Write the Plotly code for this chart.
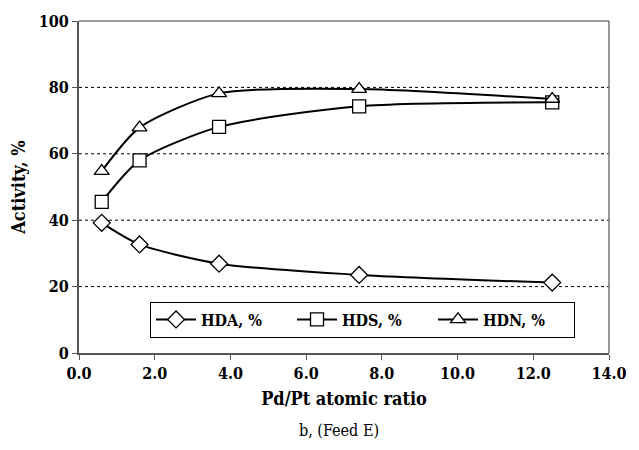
import plotly.graph_objects as go

ratio = [0.6, 1.6, 3.7, 7.4, 12.5]
hda = [39.2, 32.7, 26.9, 23.5, 21.2]
hds = [45.5, 58.0, 68.1, 74.3, 75.5]
hdn = [54.8, 67.9, 78.2, 79.5, 76.5]
series = [("HDA, %", hda, "diamond"), ("HDS, %", hds, "square"), ("HDN, %", hdn, "triangle-up")]

FONT = "'DejaVu Serif Condensed', 'DejaVu Serif', serif"
fig = go.Figure()
for name, vals, sym in series:
    fig.add_trace(go.Scatter(
        x=ratio, y=vals, name=name, mode="lines+markers",
        line=dict(color="black", width=2, shape="spline", smoothing=0.7),
        marker=dict(symbol=sym, size=13, color="white", line=dict(color="black", width=1.3)),
    ))

fig.update_layout(
    width=639, height=450,
    margin=dict(l=79, r=16, t=18, b=97),
    plot_bgcolor="white", paper_bgcolor="white",
    font=dict(family=FONT, size=15, color="black"),
    showlegend=True,
    legend=dict(orientation="h", x=0.134, y=0.155, xanchor="left", yanchor="top",
                bordercolor="black", borderwidth=1, bgcolor="white",
                font=dict(family=FONT, size=16, color="black", weight="bold"),
                itemwidth=40, tracegroupgap=0, entrywidth=86),
    xaxis=dict(range=[0, 14], tickvals=[0, 2, 4, 6, 8, 10, 12, 14],
               ticktext=["0.0", "2.0", "4.0", "6.0", "8.0", "10.0", "12.0", "14.0"],
               tickfont=dict(family=FONT, size=16, weight="bold"), ticklabeloverflow="allow",
               ticks="outside", ticklen=5, tickcolor="#555", showgrid=False,
               showline=True, linecolor="#555", linewidth=2, mirror=False, zeroline=False,
               title=dict(text="Pd/Pt atomic ratio", font=dict(family=FONT, size=18, weight="bold"), standoff=10)),
    yaxis=dict(range=[0, 100], tickvals=[0, 20, 40, 60, 80, 100],
               tickfont=dict(family=FONT, size=16, weight="bold"),
               ticks="outside", ticklen=5, tickcolor="#555",
               showgrid=False, showline=True, linecolor="#555", linewidth=2, zeroline=False,
               title=dict(text="Activity, %", font=dict(family=FONT, size=18, weight="bold"), standoff=8)),
)
for yv in [20, 40, 60, 80]:
    fig.add_shape(type="line", xref="paper", yref="y", x0=0, x1=1, y0=yv, y1=yv,
                  line=dict(color="black", width=1, dash="dot"), layer="below")
fig.add_shape(type="line", xref="paper", yref="paper", x0=0, x1=1, y0=1, y1=1,
              line=dict(color="#777", width=1.5))
fig.add_shape(type="line", xref="paper", yref="paper", x0=1, x1=1, y0=0, y1=1,
              line=dict(color="#777", width=1.5))
fig.add_annotation(text="b, (Feed E)", xref="paper", yref="paper", x=0.49, y=-0.2,
                   yanchor="top", showarrow=False, font=dict(family=FONT, size=16, color="black"))
fig.write_html("out.html")
